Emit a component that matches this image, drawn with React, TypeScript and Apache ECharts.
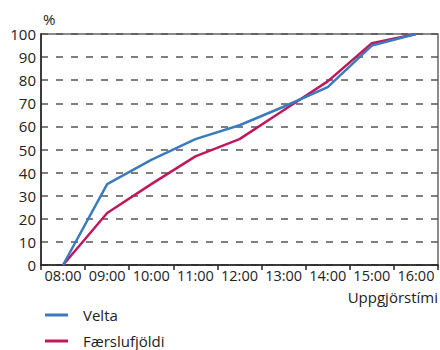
import React, { useEffect, useRef } from "react";
import * as echarts from "echarts";

const categories = ["08:00", "09:00", "10:00", "11:00", "12:00", "13:00", "14:00", "15:00", "16:00"];
const velta = [0, 35, 45.5, 54.5, 60.5, 68.5, 77, 95, 100];
const faerslufjoldi = [0, 22.5, 35, 47, 54.5, 67, 79.5, 96, 100];
const yTicks = { min: 0, max: 100, interval: 10 };

const FONT = "'Open Sans', 'Noto Sans', sans-serif";

export default function App() {
  const ref = useRef<HTMLDivElement>(null);
  useEffect(() => {
    if (!ref.current) return;
    const chart = echarts.init(ref.current, undefined, { renderer: "svg" });
    chart.setOption({
      animation: false,
      textStyle: { fontFamily: FONT },
      grid: {
        left: 41,
        right: 2,
        top: 34,
        bottom: 85,
        show: true,
        borderColor: "#666",
        borderWidth: 1.5,
        backgroundColor: "transparent",
      },
      legend: {
        orient: "vertical",
        left: 40,
        top: 302,
        height: 46,
        itemWidth: 23,
        itemHeight: 3,
        itemGap: 10,
        icon: "rect",
        textStyle: { fontSize: 15, lineHeight: 16, color: "#222", fontFamily: FONT, padding: [0, 0, 0, 10] },
        data: ["Velta", "Færslufjöldi"],
      },
      xAxis: {
        type: "category",
        data: categories,
        boundaryGap: true,
        axisLine: { show: true, lineStyle: { color: "#222", width: 1.5 } },
        axisTick: { show: true, length: 5, interval: 0, lineStyle: { color: "#222", width: 1.5 } },
        axisLabel: { fontSize: 14.5, color: "#222", margin: 3, interval: 0, hideOverlap: false, fontFamily: FONT },
        splitLine: { show: false },
      },
      yAxis: {
        type: "value",
        min: yTicks.min,
        max: yTicks.max,
        interval: yTicks.interval,
        name: "%",
        nameLocation: "end",
        nameGap: 8,
        nameTextStyle: { fontSize: 15, color: "#222", align: "left", padding: [0, 0, 0, 2], fontFamily: FONT },
        axisLine: { show: true, lineStyle: { color: "#222", width: 1.5 } },
        axisTick: { show: false },
        axisLabel: { fontSize: 15, color: "#222", margin: 5, fontFamily: FONT },
        splitLine: { show: true, lineStyle: { color: "#555", width: 1.5, type: [7, 8] } },
      },
      graphic: [
        {
          type: "text",
          right: 2,
          top: 289,
          style: { text: "Uppgjörstími", fontSize: 15, fill: "#222", fontFamily: FONT },
        },
      ],
      series: [
        {
          name: "Velta",
          type: "line",
          data: velta,
          symbol: "none",
          lineStyle: { color: "#3a7bc0", width: 2.5 },
          itemStyle: { color: "#3a7bc0" },
          z: 3,
        },
        {
          name: "Færslufjöldi",
          type: "line",
          data: faerslufjoldi,
          symbol: "none",
          lineStyle: { color: "#c0185c", width: 2.5 },
          itemStyle: { color: "#c0185c" },
          z: 2,
        },
      ],
    });
    return () => chart.dispose();
  }, []);
  return <div ref={ref} style={{ width: 440, height: 350, position: "absolute", left: 0, top: 0 }} />;
}
